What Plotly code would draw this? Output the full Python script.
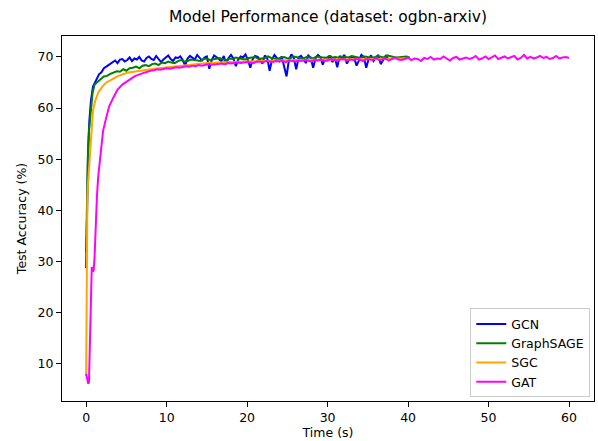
import numpy as np
import plotly.graph_objects as go

# ---------------- data ----------------
series_names = ["GCN", "GraphSAGE", "SGC", "GAT"]
series_colors = ["#0000ff", "#008000", "#ffa500", "#ff00ff"]

# GCN
gcn_t_early = [0.0, 0.03, 0.08, 0.15, 0.25, 0.4, 0.6, 0.85, 1.1, 1.35, 1.6, 1.9, 2.2, 2.5, 2.8]
gcn_v_early = [28.7, 31.5, 39.5, 46.0, 52.0, 57.5, 61.5, 64.2, 65.0, 66.0, 66.6, 67.0, 67.8, 68.1, 68.4]
gcn_noise_start, gcn_noise_step = 3.0, 0.3
gcn_v_noise = [
    68.6, 69.0, 69.3, 68.8, 69.5, 69.6, 69.1, 69.4, 69.9, 69.2,
    69.7, 69.5, 70.0, 69.3, 69.1, 69.8, 70.1, 69.6, 69.4, 70.2,
    69.7, 69.0, 69.5, 70.0, 70.3, 69.6, 69.2, 69.9, 69.8, 70.1,
    69.4, 68.3, 69.7, 70.2, 69.9, 69.5, 70.4, 69.8, 69.3, 69.9,
    70.1, 67.7, 69.4, 70.3, 70.0, 69.6, 69.1, 70.2, 68.6, 69.8,
    70.4, 69.7, 68.2, 69.5, 70.1, 69.9, 70.5, 69.4, 67.9, 69.6,
    70.2, 70.0, 69.5, 68.7, 70.3, 69.8, 67.3, 69.6, 70.4, 69.9,
    69.2, 70.1, 68.4, 66.2, 69.5, 70.5, 69.8, 67.6, 69.9, 70.2,
    69.6, 68.8, 70.3, 69.9, 67.9, 69.7, 70.4, 70.0, 68.5, 69.8,
    69.4, 70.3, 69.0, 69.9, 68.0, 70.2, 69.7, 70.4, 68.7, 69.6,
    70.1, 69.8, 68.3, 69.5, 70.4, 70.0, 67.9, 69.6, 70.3, 69.2,
    69.9, 70.4, 68.6, 69.5, 70.2, 69.8,
]

# GraphSAGE
sage_t_early = [0.0, 0.05, 0.12, 0.2, 0.35, 0.55, 0.8, 1.05, 1.3, 1.6, 1.9, 2.2, 2.6, 3.0]
sage_v_early = [31.7, 36.0, 44.0, 50.0, 55.5, 59.7, 63.0, 64.6, 65.0, 65.3, 65.8, 66.2, 66.3, 66.7]
sage_noise_start, sage_noise_step = 3.4, 0.4
sage_v_noise = [
    66.9, 67.2, 67.1, 67.6, 67.3, 67.8, 67.9, 68.1, 67.8, 68.3,
    68.4, 68.2, 68.6, 68.7, 68.4, 68.9, 68.8, 69.1, 68.9, 68.8,
    69.2, 69.4, 69.1, 69.2, 69.5, 69.4, 69.3, 69.2, 69.6, 69.7,
    69.4, 69.5, 69.6, 69.8, 69.5, 69.4, 69.7, 69.6, 69.9, 69.7,
    69.6, 69.5, 69.8, 69.9, 70.0, 69.6, 69.7, 69.8, 70.1, 69.8,
    69.7, 69.6, 69.9, 70.0, 69.7, 69.8, 70.1, 69.9, 69.8, 69.7,
    70.0, 69.9, 69.7, 70.1, 70.0, 69.8, 69.8, 70.2, 69.9, 70.0,
    69.8, 70.1, 70.0, 69.9, 70.2, 70.0, 69.9, 69.8, 70.1, 70.0,
    70.0, 69.9, 70.2, 70.0, 69.9, 70.3, 70.1, 70.0, 69.9, 70.0,
    70.0, 70.1, 69.9,
]

# SGC
sgc_t = [0.0, 0.05, 0.1, 0.15, 0.2, 0.3, 0.45, 0.6, 0.85, 1.1, 1.5, 2.0, 2.5, 3.1,
         4.0, 5.1, 6.5, 7.6, 9.0, 11.0, 13.0, 15.0, 18.0, 21.0, 25.0, 30.0, 35.0, 40.0]
sgc_v = [7.6, 28.9, 38.0, 42.0, 44.5, 47.0, 50.5, 55.0, 59.5, 61.3, 63.0, 64.2, 65.0, 65.5,
         66.3, 66.9, 67.3, 67.5, 67.8, 68.1, 68.5, 68.8, 69.0, 69.2, 69.35, 69.5, 69.6, 69.7]

# GAT
gat_t_early = [0.0, 0.1, 0.25, 0.35, 0.55, 0.7, 0.85, 0.95, 1.05, 1.2, 1.35, 1.5, 1.7, 1.9,
               2.1, 2.4, 2.85, 3.3, 3.9, 4.5, 5.2, 6.0, 6.8, 7.6]
gat_v_early = [8.0, 7.2, 6.1, 6.3, 20.0, 28.9, 28.0, 28.4, 31.0, 38.0, 43.0, 46.6, 50.0, 53.2,
               55.5, 57.5, 60.3, 61.8, 63.6, 64.6, 65.4, 66.2, 66.7, 67.2]
gat_noise_start, gat_noise_step = 8.0, 0.4
gat_v_noise = [
    67.3, 67.4, 67.6, 67.5, 67.7, 67.8, 67.7, 67.9, 68.0, 67.9,
    68.1, 68.2, 68.1, 68.3, 68.2, 68.4, 68.3, 68.4, 68.6, 68.5,
    68.5, 68.6, 68.7, 68.6, 68.8, 68.7, 68.8, 68.9, 68.8, 68.9,
    69.0, 68.9, 68.8, 69.1, 69.0, 69.0, 69.2, 69.1, 69.0, 69.2,
    69.1, 69.2, 69.0, 69.3, 69.2, 69.1, 69.3, 69.2, 69.4, 69.3,
    69.1, 69.4, 69.3, 69.5, 69.2, 69.3, 69.6, 69.4, 69.3, 69.5,
    69.6, 69.3, 69.5, 69.4, 69.7, 69.5, 69.2, 69.6, 69.5, 69.4,
    69.8, 69.4, 69.5, 69.7, 69.3, 69.6, 69.9, 69.5, 69.4, 69.6,
    69.9, 69.4, 69.7, 69.6, 69.2, 69.8, 69.6, 70.0, 69.5, 69.7,
    69.6, 70.1, 69.7, 69.3, 69.8, 70.0, 69.5, 69.7, 69.9, 69.6,
    69.8, 70.2, 69.5, 69.7, 70.1, 69.6, 69.9, 70.3, 69.6, 69.8,
    70.1, 69.7, 69.9, 70.2, 69.5, 69.8, 70.4, 69.7, 70.0, 69.7,
    69.9, 70.2, 69.8, 70.0, 69.6, 69.8, 70.2, 69.7, 69.9, 70.0,
    69.8,
]

x_ticks = [0, 10, 20, 30, 40, 50, 60]
y_ticks = [10, 20, 30, 40, 50, 60, 70]


def assemble(t_early, v_early, start, step, v_noise):
    t_noise = [start + step * i for i in range(len(v_noise))]
    return list(t_early) + t_noise, list(v_early) + list(v_noise)


gcn_t, gcn_v = assemble(gcn_t_early, gcn_v_early, gcn_noise_start, gcn_noise_step, gcn_v_noise)
sage_t, sage_v = assemble(sage_t_early, sage_v_early, sage_noise_start, sage_noise_step, sage_v_noise)
gat_t, gat_v = assemble(gat_t_early, gat_v_early, gat_noise_start, gat_noise_step, gat_v_noise)

all_t = [gcn_t, sage_t, sgc_t, gat_t]
all_v = [gcn_v, sage_v, sgc_v, gat_v]

# ---------------- figure ----------------
FONT = "DejaVu Sans"
FS = 12.5
fig = go.Figure()
for name, color, t, v in zip(series_names, series_colors, all_t, all_v):
    fig.add_trace(go.Scatter(x=t, y=v, mode="lines", name=name,
                             line=dict(color=color, width=2)))

axis_common = dict(showline=True, linecolor="black", linewidth=1, mirror=True,
                   ticks="outside", ticklen=5, tickwidth=1, tickcolor="black",
                   showgrid=False, zeroline=False,
                   tickfont=dict(family=FONT, size=FS, color="black"))

fig.update_layout(
    width=598, height=441,
    margin=dict(l=62, r=4, t=36, b=40, autoexpand=False),
    paper_bgcolor="white", plot_bgcolor="white",
    font=dict(family=FONT, color="black"),
    title=dict(text="Model Performance (dataset: ogbn-arxiv)", x=0.5, xref="paper",
               xanchor="center", y=0.962, yanchor="middle",
               font=dict(family=FONT, size=15.5, color="black")),
    xaxis=dict(range=[-3.0, 63.1], tickvals=x_ticks,
               title=dict(text="Time (s)", standoff=3,
                          font=dict(family=FONT, size=FS, color="black")),
               **axis_common),
    yaxis=dict(range=[2.7, 74.1], tickvals=y_ticks,
               title=dict(text="Test Accuracy (%)", standoff=8,
                          font=dict(family=FONT, size=FS, color="black")),
               **axis_common),
    legend=dict(x=0.993, y=0.01, xanchor="right", yanchor="bottom",
                bgcolor="rgba(255,255,255,0.85)", bordercolor="#cccccc", borderwidth=1,
                font=dict(family=FONT, size=FS, color="black"),
                tracegroupgap=0, itemwidth=30),
    showlegend=True,
)

fig.write_html("out.html", config={"displayModeBar": False},
               post_script="document.body.style.margin='0';document.body.style.padding='0';")
